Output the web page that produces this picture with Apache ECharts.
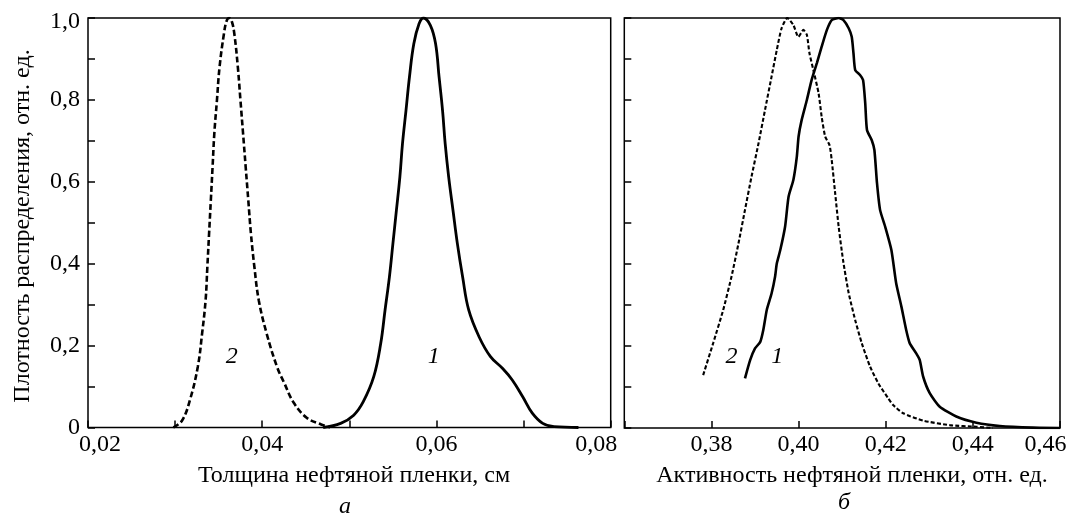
<!DOCTYPE html>
<html>
<head>
<meta charset="utf-8">
<script src="https://cdn.jsdelivr.net/npm/echarts@6/dist/echarts.min.js"></script>
<style>
html,body{margin:0;padding:0;background:#fff;}
#chart{width:1076px;height:516px;}
</style>
</head>
<body>
<div id="chart"></div>
<script>
// ---- Panel "а": thickness of oil film, cm ----
const thick1X = [0.0470,0.0490,0.0505,0.0516,0.0528,0.0536,0.0541,0.0546,0.0550,0.0554,0.0558,0.0561,0.0565,0.0569,0.0574,0.0580,0.0585,0.0593,0.0599,0.0603,0.0607,0.0610,0.0614,0.0619,0.0624,0.0630,0.0637,0.0649,0.0662,0.0676,0.0687,0.0699,0.0710,0.0722,0.0735,0.0763];
const thick1Y = [0,0.010,0.030,0.063,0.124,0.205,0.287,0.368,0.449,0.530,0.612,0.693,0.774,0.856,0.937,0.986,1.0,0.982,0.937,0.856,0.774,0.693,0.612,0.530,0.449,0.368,0.287,0.221,0.173,0.144,0.116,0.075,0.035,0.010,0.002,0];
const thick2X = [0.0298,0.0308,0.0317,0.0326,0.0331,0.0335,0.0337,0.0339,0.0341,0.0343,0.0345,0.0348,0.0351,0.0356,0.0359,0.0362,0.0365,0.0368,0.0372,0.0375,0.0378,0.0381,0.0384,0.0387,0.0391,0.0396,0.0405,0.0417,0.0425,0.0436,0.0451,0.0467,0.0478];
const thick2Y = [0,0.017,0.067,0.148,0.230,0.311,0.392,0.474,0.555,0.636,0.718,0.799,0.880,0.961,0.992,1.0,0.992,0.961,0.880,0.799,0.718,0.636,0.555,0.474,0.392,0.311,0.230,0.148,0.110,0.061,0.024,0.008,0];

// ---- Panel "б": activity of oil film, rel. units ----
const act1X = [0.3877,0.3889,0.3900,0.3912,0.3919,0.3927,0.3938,0.3946,0.3950,0.3958,0.3969,0.3977,0.3988,0.3996,0.4000,0.4007,0.4019,0.4030,0.4042,0.4053,0.4065,0.4076,0.4092,0.4103,0.4115,0.4122,0.4126,0.4130,0.4141,0.4148,0.4153,0.4157,0.4168,0.4174,0.4180,0.4187,0.4199,0.4213,0.4224,0.4236,0.4247,0.4255,0.4270,0.4278,0.4286,0.4301,0.4324,0.4362,0.4408,0.4462,0.4538,0.4600];
const act1Y = [0.121,0.166,0.194,0.210,0.239,0.288,0.328,0.369,0.401,0.434,0.491,0.564,0.605,0.662,0.711,0.751,0.800,0.849,0.890,0.930,0.971,0.995,1.0,0.995,0.975,0.954,0.914,0.873,0.861,0.849,0.792,0.727,0.702,0.678,0.597,0.532,0.490,0.434,0.353,0.296,0.239,0.207,0.182,0.166,0.125,0.085,0.052,0.028,0.013,0.005,0.001,0];
const act2X = [0.3781,0.3804,0.3827,0.3846,0.3862,0.3877,0.3892,0.3908,0.3923,0.3938,0.3950,0.3961,0.3974,0.3988,0.39995,0.4011,0.4019,0.4025,0.4034,0.4046,0.4053,0.4061,0.4071,0.4076,0.4084,0.4092,0.4102,0.4115,0.4130,0.4145,0.4164,0.4183,0.4206,0.4217,0.4240,0.4286,0.4347,0.4408,0.4446];
const act2Y = [0.129,0.207,0.288,0.369,0.450,0.532,0.613,0.694,0.776,0.857,0.922,0.975,1.0,0.983,0.954,0.971,0.959,0.914,0.873,0.816,0.759,0.711,0.690,0.654,0.572,0.491,0.410,0.329,0.263,0.207,0.150,0.109,0.072,0.056,0.036,0.018,0.007,0.003,0];

// ---- curve number labels ----
const curveNames = ['1','2'];
const thickLabelX = [0.0597, 0.0365];
const thickLabelY = [0.173, 0.173];
const actLabelX = [0.3951, 0.3846];
const actLabelY = [0.174, 0.174];

// ---- tick labels ----
const yTickLabels = ['0','0,2','0,4','0,6','0,8','1,0'];
const thickTickLabels = ['0,02','0,04','0,06','0,08'];
const actTickLabels = ['','0,38','0,40','0,42','0,44','0,46'];

// ---- text ----
const yTitle = 'Плотность распределения, отн. ед.';
const thickTitle = 'Толщина нефтяной пленки, см';
const actTitle = 'Активность нефтяной пленки, отн. ед.';
const panelLetters = ['а','б'];

const FONT = 'Liberation Serif';
const FS = 24;
const zip = (xs, ys) => xs.map((x, i) => [x, ys[i]]);

const richBase = {fontFamily: FONT, fontSize: FS, color: '#000'};
function tickFmt(labels, min, interval, edges) {
  return function (v) {
    const i = Math.round((v - min) / interval);
    const t = labels[i] !== undefined ? labels[i] : '';
    if (t === '') return '';
    if (edges && edges[i]) return '{' + edges[i] + '|' + t + '}';
    return t;
  };
}

function xAxisCfg(gridIndex, min, max, interval, labels, edges, minorSplit) {
  return {
    type: 'value', gridIndex, min, max, interval,
    axisLine: {show: false},
    axisTick: {show: true, inside: true, length: 7, lineStyle: {color: '#000', width: 1.5}},
    minorTick: {show: minorSplit > 0, splitNumber: minorSplit || 2, length: 7, lineStyle: {color: '#000', width: 1.5}},
    splitLine: {show: false},
    axisLabel: {
      show: true, margin: 5, color: '#000', fontFamily: FONT, fontSize: FS,
      showMinLabel: true, showMaxLabel: true,
      formatter: tickFmt(labels, min, interval, edges),
      rich: {
        lft: Object.assign({padding: [0, 0, 0, 24]}, richBase),
        rgt: Object.assign({padding: [0, 29, 0, 0]}, richBase)
      }
    }
  };
}
function yAxisCfg(gridIndex, showLabels) {
  return {
    type: 'value', gridIndex, min: 0, max: 1, interval: 0.2,
    axisLine: {show: false},
    axisTick: {show: true, inside: true, length: 7, lineStyle: {color: '#000', width: 1.5}},
    minorTick: {show: true, splitNumber: 2, length: 7, lineStyle: {color: '#000', width: 1.5}},
    splitLine: {show: false},
    axisLabel: {
      show: showLabels, margin: 8, color: '#000', fontFamily: FONT, fontSize: FS,
      showMinLabel: true, showMaxLabel: true,
      formatter: tickFmt(yTickLabels, 0, 0.2, {5: 'top'}),
      rich: {top: Object.assign({padding: [8, 0, 0, 0]}, richBase)}
    }
  };
}

function labelSeries(xi, yi, xs, ys) {
  return {
    type: 'scatter', xAxisIndex: xi, yAxisIndex: yi, symbolSize: 0,
    itemStyle: {color: 'rgba(0,0,0,0)'},
    silent: true, z: 5,
    data: xs.map((x, i) => ({value: [x, ys[i]], name: curveNames[i]})),
    label: {show: true, position: 'inside', formatter: p => p.name, color: '#000',
      fontFamily: FONT, fontSize: FS, fontStyle: 'italic', opacity: 1}
  };
}

const chart = echarts.init(document.getElementById('chart'), null, {renderer: 'canvas'});
chart.setOption({
  animation: false,
  backgroundColor: '#fff',
  grid: [
    {left: 88, top: 18, right: 465.3, bottom: 88.5, show: true, borderColor: '#000', borderWidth: 1.5, backgroundColor: 'transparent'},
    {left: 624.3, top: 18, right: 16, bottom: 88, show: true, borderColor: '#000', borderWidth: 1.5, backgroundColor: 'transparent'}
  ],
  xAxis: [
    xAxisCfg(0, 0.02, 0.08, 0.02, thickTickLabels, {0: 'lft', 3: 'rgt'}, 2),
    xAxisCfg(1, 0.36, 0.46, 0.02, actTickLabels, {5: 'rgt'}, 0)
  ],
  yAxis: [yAxisCfg(0, true), yAxisCfg(1, false)],
  series: [
    {type: 'line', xAxisIndex: 0, yAxisIndex: 0, data: zip(thick1X, thick1Y), showSymbol: false, smooth: 0.4,
      lineStyle: {color: '#000', width: 2.8, type: 'solid'}},
    {type: 'line', xAxisIndex: 0, yAxisIndex: 0, data: zip(thick2X, thick2Y), showSymbol: false, smooth: 0.4,
      lineStyle: {color: '#000', width: 2.6, type: [6, 3]}},
    {type: 'line', xAxisIndex: 1, yAxisIndex: 1, data: zip(act1X, act1Y), showSymbol: false, smooth: 0.2,
      lineStyle: {color: '#000', width: 2.6, type: 'solid'}},
    {type: 'line', xAxisIndex: 1, yAxisIndex: 1, data: zip(act2X, act2Y), showSymbol: false, smooth: 0.2,
      lineStyle: {color: '#000', width: 2.1, type: [4, 2.2]}},
    labelSeries(0, 0, thickLabelX, thickLabelY),
    labelSeries(1, 1, actLabelX, actLabelY)
  ],
  graphic: [
    {type: 'text', x: 23, y: 226, rotation: Math.PI / 2,
      style: {text: yTitle, fill: '#000', font: FS + 'px "' + FONT + '"', align: 'center', verticalAlign: 'middle'}},
    {type: 'text', x: 354, y: 476,
      style: {text: thickTitle, fill: '#000', font: FS + 'px "' + FONT + '"', align: 'center', verticalAlign: 'middle'}},
    {type: 'text', x: 852, y: 476,
      style: {text: actTitle, fill: '#000', font: FS + 'px "' + FONT + '"', align: 'center', verticalAlign: 'middle'}},
    {type: 'text', x: 345, y: 507,
      style: {text: panelLetters[0], fill: '#000', font: 'italic ' + FS + 'px "' + FONT + '"', align: 'center', verticalAlign: 'middle'}},
    {type: 'text', x: 844, y: 503,
      style: {text: panelLetters[1], fill: '#000', font: 'italic ' + FS + 'px "' + FONT + '"', align: 'center', verticalAlign: 'middle'}}
  ]
});
</script>
</body>
</html>
